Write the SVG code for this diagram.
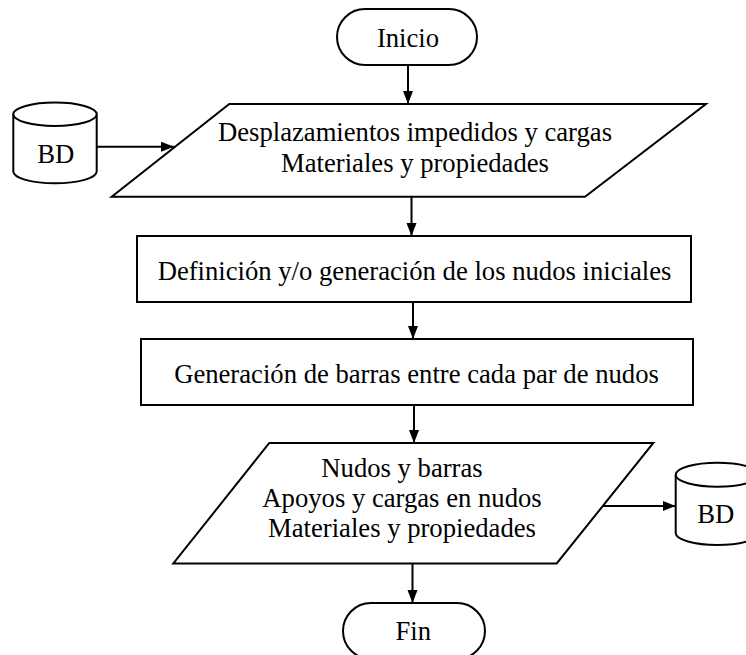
<svg xmlns="http://www.w3.org/2000/svg" width="746" height="655" viewBox="0 0 746 655">
<style>
.s{fill:#fff;stroke:#000;stroke-width:2;stroke-linejoin:miter}
.c{fill:none;stroke:#000;stroke-width:2}
.t{font-family:"Liberation Serif","Times New Roman",serif;font-size:26.67px;fill:#000;text-anchor:middle}
</style>
<defs>
<marker id="ah" markerUnits="userSpaceOnUse" markerWidth="14" markerHeight="11" refX="13" refY="5" orient="auto">
<path d="M0,0 L13,5 L0,10 Z" fill="#000"/>
</marker>
</defs>
<rect width="746" height="655" fill="#fff"/>
<g id="connectors">
<line class="c" x1="408" y1="65" x2="408" y2="104" marker-end="url(#ah)"/>
<line class="c" x1="411.5" y1="197" x2="411.5" y2="236" marker-end="url(#ah)"/>
<line class="c" x1="413" y1="302" x2="413" y2="339" marker-end="url(#ah)"/>
<line class="c" x1="414" y1="405" x2="414" y2="443" marker-end="url(#ah)"/>
<line class="c" x1="412.5" y1="563.5" x2="412.5" y2="603" marker-end="url(#ah)"/>
<line class="c" x1="96.7" y1="146.7" x2="174" y2="146.7" marker-end="url(#ah)"/>
<line class="c" x1="602.8" y1="506" x2="675.7" y2="506" marker-end="url(#ah)"/>
</g>
<g id="inicio">
<rect class="s" x="337" y="9" width="140" height="56" rx="28" ry="28"/>
<text class="t" x="408" y="47">Inicio</text>
</g>
<g id="bd-in">
<path class="s" d="M13.3,114.3 L13.3,171.6 A41.7,11.7 0 0 0 96.7,171.6 L96.7,114.3"/>
<ellipse class="s" cx="55" cy="114.3" rx="41.7" ry="11.7"/>
<text class="t" x="55.8" y="163.3">BD</text>
</g>
<g id="entrada">
<polygon class="s" points="229.3,104 706,104 585,196.7 111.7,196.7"/>
<text class="t" x="415" y="140.5">Desplazamientos impedidos y cargas</text>
<text class="t" x="415" y="172">Materiales y propiedades</text>
</g>
<g id="definicion">
<rect class="s" x="137" y="236" width="554" height="66"/>
<text class="t" x="414.5" y="279.5">Definición y/o generación de los nudos iniciales</text>
</g>
<g id="generacion">
<rect class="s" x="141" y="339" width="552" height="66"/>
<text class="t" x="416.5" y="382.5">Generación de barras entre cada par de nudos</text>
</g>
<g id="salida">
<polygon class="s" points="269.3,443 653.3,443 556.7,563.5 173.3,563.5"/>
<text class="t" x="402" y="477.3">Nudos y barras</text>
<text class="t" x="402" y="507.3">Apoyos y cargas en nudos</text>
<text class="t" x="402" y="537.3">Materiales y propiedades</text>
</g>
<g id="bd-out">
<path class="s" d="M675.7,474.8 L675.7,533 A41.7,12 0 0 0 759.1,533 L759.1,474.8"/>
<ellipse class="s" cx="717.4" cy="474.8" rx="41.7" ry="12"/>
<text class="t" x="715.8" y="522.7">BD</text>
</g>
<g id="fin">
<rect class="s" x="343" y="603" width="142" height="56" rx="28" ry="28"/>
<text class="t" x="413.3" y="640">Fin</text>
</g>
</svg>
